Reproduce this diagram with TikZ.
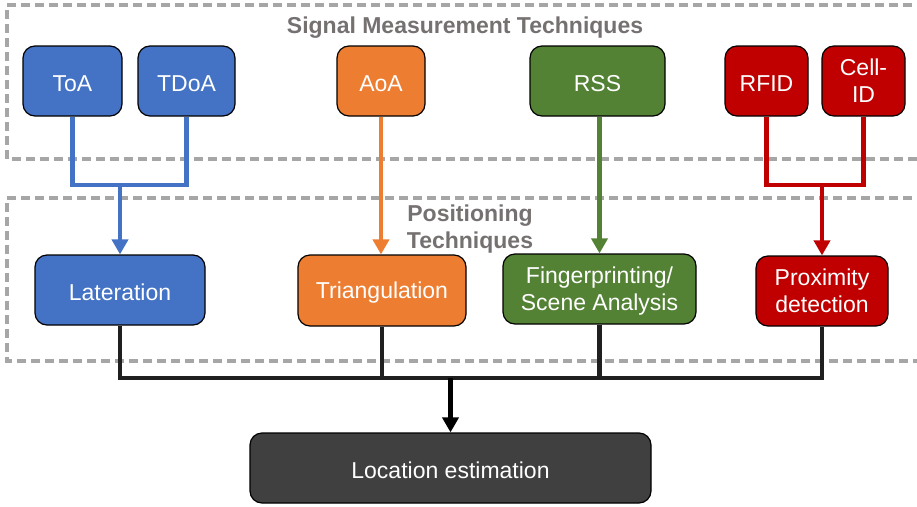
\documentclass[tikz,border=0pt]{standalone}
\usepackage{fontspec}
\setmainfont{Liberation Sans}
\usetikzlibrary{arrows.meta}

\definecolor{cblue}{HTML}{4472C4}
\definecolor{corange}{HTML}{ED7D31}
\definecolor{cgreen}{HTML}{548235}
\definecolor{cred}{HTML}{C00000}
\definecolor{cdark}{HTML}{404040}
\definecolor{cframe}{HTML}{A6A6A6}
\definecolor{ctitle}{HTML}{767171}

\tikzset{
  box/.style={draw=black, line width=1.2pt, rounded corners=12pt,
    text=white, align=center, inner sep=2pt,
    font=\fontsize{23}{27}\selectfont},
  oneline/.style={box, text height=21pt},
  twoline/.style={box, text depth=0pt},
  group/.style={draw=cframe, line width=3.2pt, dash pattern=on 9pt off 5pt},
  grouptitle/.style={text=ctitle, align=center,
    font=\fontsize{23}{27}\selectfont\bfseries},
  link/.style={line width=4.5pt},
  arr/.style={link, -{Triangle[length=15pt,width=16pt]}},
}

\begin{document}
\begin{tikzpicture}[x=1pt, y=-1pt]
  \useasboundingbox (0,0) rectangle (917,506);
  \clip (0,0) rectangle (917,506);

  % dashed group frames (open to the right)
  \draw[group] (940,5) -- (7,5) -- (7,159) -- (940,159);
  \draw[group] (940,198) -- (7,198) -- (7,361) -- (940,361);

  \node[grouptitle] (sigtitle) at (465,28) {Signal Measurement Techniques};
  \node[grouptitle] (postitle) at (470,229.5) {Positioning\\Techniques};

  % signal measurement techniques
  \node[oneline, fill=cblue, minimum width=99pt, minimum height=70pt] (toa) at (72.5,81) {ToA};
  \node[oneline, fill=cblue, minimum width=97pt, minimum height=70pt] (tdoa) at (186.5,81) {TDoA};
  \node[oneline, fill=corange, minimum width=88pt, minimum height=70pt] (aoa) at (381,81) {AoA};
  \node[oneline, fill=cgreen, minimum width=135pt, minimum height=70pt] (rss) at (597.5,81) {RSS};
  \node[oneline, fill=cred, minimum width=83pt, minimum height=70pt] (rfid) at (766.5,81) {RFID};
  \node[twoline, fill=cred, minimum width=83pt, minimum height=70pt] (cell) at (863.5,81) {Cell-\\ID};

  % positioning techniques
  \node[oneline, fill=cblue, minimum width=170pt, minimum height=70pt] (lat) at (120,290) {Lateration};
  \node[oneline, fill=corange, minimum width=168pt, minimum height=71pt] (tri) at (382,290.5) {Triangulation};
  \node[twoline, fill=cgreen, minimum width=193pt, minimum height=70pt] (fp) at (599.5,289) {Fingerprinting/\\Scene Analysis};
  \node[twoline, fill=cred, minimum width=132pt, minimum height=70pt] (prox) at (822,291) {Proximity\\detection};

  % result
  \node[oneline, fill=cdark, minimum width=401pt, minimum height=70pt] (loc) at (450.5,468) {Location estimation};

  % junction points
  \coordinate (bj) at (120,185);
  \coordinate (rj) at (822,185);
  \coordinate (kj) at (450.5,378);

  % measurement -> positioning
  \draw[link, cblue] (toa.south) |- (bj) -| (tdoa.south);
  \draw[arr, cblue] (bj) -- (lat.north);
  \draw[arr, corange] (aoa.south) -- (aoa.south |- tri.north);
  \draw[arr, cgreen] (rss.south -| fp.north) -- (fp.north);
  \draw[link, cred] (rfid.south) |- (rj) -| (cell.south);
  \draw[arr, cred] (rj) -- (prox.north);

  % positioning -> location estimation
  \draw[link, black!88] (lat.south) -- (lat.south |- kj) -- (prox.south |- kj) -- (prox.south);
  \draw[link, black!88] (tri.south) -- (tri.south |- kj);
  \draw[link, black!88] (fp.south) -- (fp.south |- kj);
  \draw[arr, black] (kj) -- (loc.north);
\end{tikzpicture}
\end{document}
